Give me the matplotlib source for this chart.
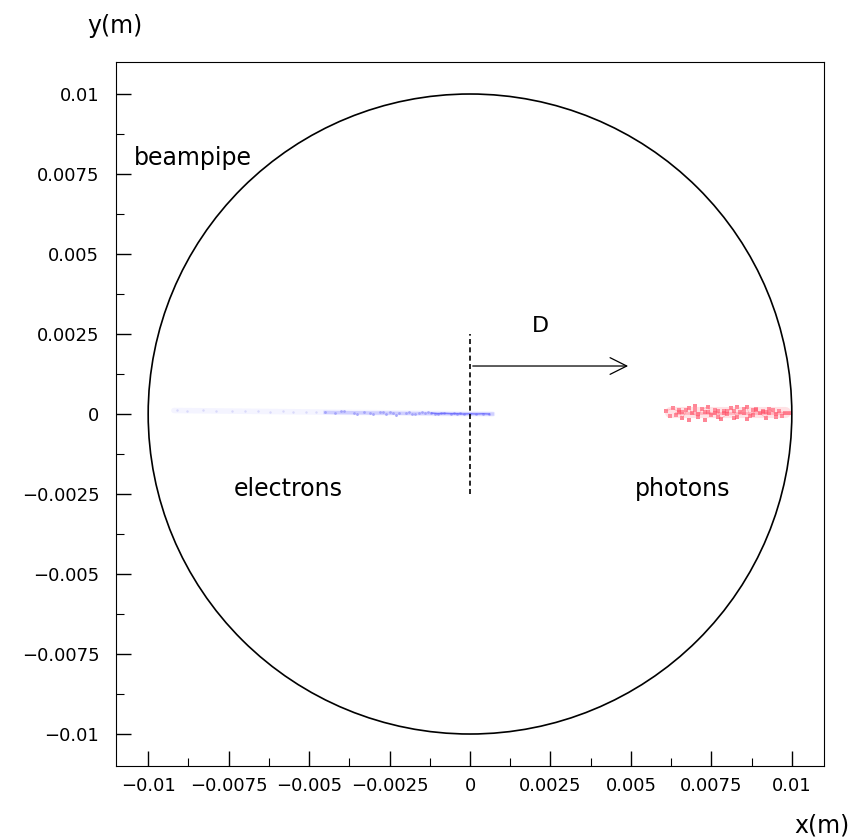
import numpy as np
import matplotlib.pyplot as plt
from matplotlib.ticker import MultipleLocator
from matplotlib.patches import Circle

# beam pipe radius (m)
pipe_r = 0.01

# electron hits (m)
ex = [-0.0091, -0.0088, -0.0083, -0.0079, -0.0074, -0.0070, -0.0066, -0.0062,
      -0.0058, -0.0055, -0.0051, -0.0048, -0.0045, -0.0042, -0.0039, -0.0036,
      -0.0033, -0.0031, -0.0028, -0.0026, -0.0024, -0.0022, -0.0020, -0.0018,
      -0.0016, -0.0014, -0.0012, -0.0010, -0.0008, -0.0006, -0.0004, -0.0002,
      0.0000, 0.0002, 0.0004, 0.0006, -0.0035, -0.0027, -0.0019, -0.0011,
      -0.0005, -0.0030, -0.0015, -0.0040, -0.0023, -0.0009, -0.0003, -0.0013,
      -0.0017, -0.0025]
ey = [0.00012, 0.00010, 0.00011, 0.00009, 0.00010, 0.00008, 0.00009, 0.00007,
      0.00008, 0.00006, 0.00007, 0.00005, 0.00006, 0.00004, 0.00008, 0.00003,
      0.00006, 0.00002, 0.00005, 0.00001, 0.00004, 0.00002, 0.00004, 0.00001,
      0.00003, 0.00002, 0.00003, 0.00001, 0.00002, 0.00001, 0.00001, 0.00000,
      0.00001, 0.00000, 0.00001, 0.00000, -0.00001, 0.00007, 0.00006, -0.00001,
      0.00003, 0.00000, 0.00005, 0.00009, -0.00002, 0.00004, 0.00002, 0.00005,
      -0.00001, 0.00006]

# photon hits (m)
px = [0.0061, 0.0063, 0.0065, 0.0066, 0.0068, 0.0069, 0.0071, 0.0072, 0.0074,
      0.0075, 0.0077, 0.0078, 0.0080, 0.0081, 0.0083, 0.0084, 0.0086, 0.0087,
      0.0089, 0.0090, 0.0092, 0.0093, 0.0095, 0.0096, 0.0098, 0.0064, 0.0067,
      0.0070, 0.0073, 0.0076, 0.0079, 0.0082, 0.0085, 0.0088, 0.0091, 0.0094,
      0.0097, 0.0062, 0.0068, 0.0074, 0.0080, 0.0086, 0.0092, 0.0071, 0.0077,
      0.0083, 0.0089, 0.0095, 0.0099, 0.0066, 0.0070, 0.0076, 0.0082, 0.0088,
      0.0093, 0.0065, 0.0073, 0.0079, 0.0085, 0.0091]
py = [0.00010, 0.00018, 0.00005, -0.00012, 0.00020, 0.00002, -0.00008, 0.00015,
      0.00022, -0.00004, 0.00009, -0.00015, 0.00001, 0.00019, -0.00010, 0.00006,
      0.00021, -0.00006, 0.00012, 0.00003, -0.00013, 0.00016, 0.00000, 0.00008,
      0.00004, -0.00002, 0.00011, 0.00024, -0.00018, 0.00013, 0.00002, -0.00011,
      0.00017, -0.00003, 0.00007, 0.00014, -0.00005, -0.00007, -0.00020, 0.00005,
      0.00010, -0.00016, 0.00006, 0.00001, -0.00009, 0.00023, 0.00015, -0.00008,
      0.00002, 0.00007, 0.00012, 0.00004, 0.00009, 0.00011, 0.00003, 0.00013,
      0.00006, 0.00010, 0.00004, 0.00008]

plt.rcParams['font.family'] = ['DejaVu Sans']
fig = plt.figure(figsize=(8.67, 8.38), dpi=100)
ax = fig.add_axes([0.1338, 0.0859, 0.8166, 0.8401])

ax.add_patch(Circle((0, 0), pipe_r, fill=False, color='black', lw=1.2))

# electron trail: faint far away, denser near the axis
ax.plot([-0.0092, -0.0045, 0.0007], [0.00011, 0.00006, 0.0],
        color='#dcdcff', lw=4, alpha=0.3, solid_capstyle='round')
ax.plot([-0.0045, -0.002, 0.0007], [0.00005, 0.00002, 0.0],
        color='#8c8cff', lw=2.5, alpha=0.35)
ax.scatter(ex[:12], ey[:12], s=3, color='#9090f0', alpha=0.35, lw=0)
ax.scatter(ex[12:], ey[12:], s=4, color='#5050f0', alpha=0.55, lw=0)
ax.plot(ex[26:36], ey[26:36], color='#5a5aff', lw=1.0, alpha=0.7)

# photon spot
ax.plot([0.0062, 0.0098], [0.00005, 0.00005], color='#ffa0aa', lw=8, alpha=0.3,
        solid_capstyle='round')
ax.plot([0.0064, 0.0099], [0.00004, 0.00004], color='#ff5068', lw=2, alpha=0.3)
ax.scatter(px, py, s=5, color='#ff3550', alpha=0.6, lw=0, marker='s')
ax.plot(px[:25], py[:25], color='#ff6070', lw=0.5, alpha=0.4)

# separation between electron and photon beams
ax.plot([0, 0], [-0.0025, 0.0025], color='black', lw=1.2, ls=(0, (3, 2)))
ax.annotate('', xy=(0.005, 0.0015), xytext=(0, 0.0015),
            arrowprops=dict(arrowstyle='->', color='black', lw=0.9,
                            mutation_scale=30))
ax.text(0.0022, 0.00275, 'D', fontsize=16, ha='center', va='center')

ax.text(-0.01045, 0.0080, 'beampipe', fontsize=17, ha='left', va='center')
ax.text(-0.00565, -0.00235, 'electrons', fontsize=17, ha='center', va='center')
ax.text(0.0066, -0.00235, 'photons', fontsize=17, ha='center', va='center')

ax.set_xlim(-0.011, 0.011)
ax.set_ylim(-0.011, 0.011)
ax.xaxis.set_minor_locator(MultipleLocator(0.00125))
ax.yaxis.set_minor_locator(MultipleLocator(0.00125))
ax.tick_params(which='major', direction='in', length=11, width=1.0,
               labelsize=13, top=False, right=False)
ax.tick_params(axis='y', which='major', pad=12)
ax.tick_params(axis='x', which='major', pad=8)
ax.tick_params(which='minor', direction='in', length=6, width=0.8,
               top=False, right=False)

xt = [-0.01, -0.0075, -0.005, -0.0025, 0, 0.0025, 0.005, 0.0075, 0.01]
xl = ['\u22120.01', '\u22120.0075', '\u22120.005', '\u22120.0025', '0',
      '0.0025', '0.005', '0.0075', '0.01']
ax.set_xticks(xt)
ax.set_xticklabels(xl)
ax.set_yticks(xt)
ax.set_yticklabels(xl)

fig.text(0.132, 0.969, 'y(m)', fontsize=17, ha='center', va='center')
fig.text(0.948, 0.015, 'x(m)', fontsize=17, ha='center', va='center')

fig.savefig('out.png', dpi=100)
